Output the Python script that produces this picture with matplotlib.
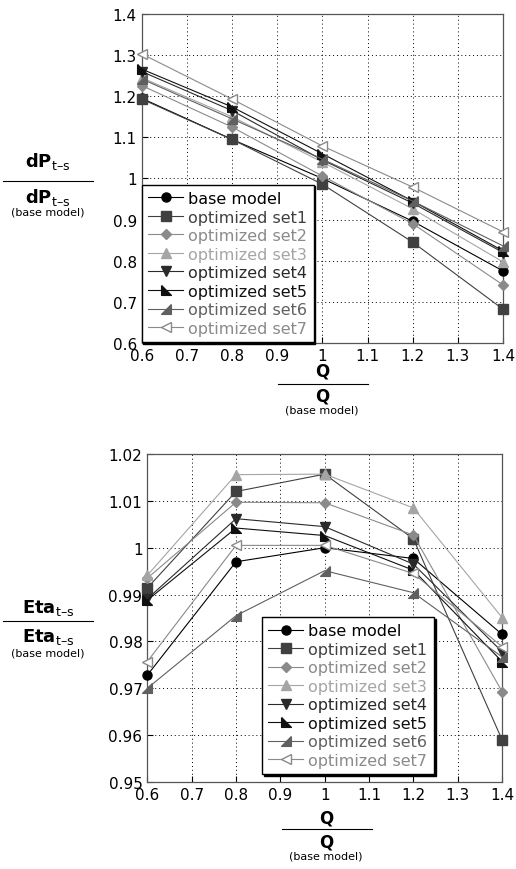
import matplotlib
matplotlib.use("Agg")
import matplotlib.pyplot as plt
import numpy as np

plt.rcParams['font.family'] = ['DejaVu Sans']
plt.rcParams['mathtext.fontset'] = 'dejavusans'

x = [0.6, 0.8, 1.0, 1.2, 1.4]
labels = ["base model", "optimized set1", "optimized set2", "optimized set3",
          "optimized set4", "optimized set5", "optimized set6", "optimized set7"]

dp_base = [1.195, 1.095, 1.000, 0.896, 0.775]
dp_set1 = [1.193, 1.095, 0.986, 0.845, 0.682]
dp_set2 = [1.226, 1.125, 1.006, 0.890, 0.741]
dp_set3 = [1.245, 1.150, 1.040, 0.926, 0.797]
dp_set4 = [1.260, 1.165, 1.045, 0.940, 0.820]
dp_set5 = [1.266, 1.174, 1.060, 0.945, 0.824]
dp_set6 = [1.242, 1.145, 1.047, 0.945, 0.836]
dp_set7 = [1.303, 1.193, 1.079, 0.979, 0.870]

eta_base = [0.9728, 0.9970, 1.0000, 0.9977, 0.9815]
eta_set1 = [0.9914, 1.0120, 1.0157, 1.0019, 0.9590]
eta_set2 = [0.9935, 1.0097, 1.0096, 1.0027, 0.9693]
eta_set3 = [0.9941, 1.0156, 1.0157, 1.0085, 0.9851]
eta_set4 = [0.9891, 1.0062, 1.0045, 0.9965, 0.9778]
eta_set5 = [0.9888, 1.0042, 1.0026, 0.9952, 0.9757]
eta_set6 = [0.9700, 0.9855, 0.9951, 0.9904, 0.9767]
eta_set7 = [0.9757, 1.0005, 1.0005, 0.9945, 0.9789]

dp_series = [dp_base, dp_set1, dp_set2, dp_set3, dp_set4, dp_set5, dp_set6, dp_set7]
eta_series = [eta_base, eta_set1, eta_set2, eta_set3, eta_set4, eta_set5, eta_set6, eta_set7]

mk5 = [(-1, 1), (-1, -1), (1, -1), (-1, 1)]
mk6 = [(1, 1), (1, -1), (-1, -1), (1, 1)]
styles = [
    dict(color='black', marker='o', mfc='black', mec='black', ms=6.5),
    dict(color='#404040', marker='s', mfc='#404040', mec='#404040', ms=6.5),
    dict(color='#8a8a8a', marker='D', mfc='#8a8a8a', mec='#8a8a8a', ms=5.5),
    dict(color='#a5a5a5', marker='^', mfc='#a5a5a5', mec='#a5a5a5', ms=7),
    dict(color='#2a2a2a', marker='v', mfc='#2a2a2a', mec='#2a2a2a', ms=7),
    dict(color='#101010', marker=mk5, mfc='#101010', mec='#101010', ms=7),
    dict(color='#606060', marker=mk6, mfc='#606060', mec='#606060', ms=7),
    dict(color='#8a8a8a', marker='<', mfc='white', mec='#8a8a8a', ms=7),
]
text_colors = ['black', '#404040', '#8a8a8a', '#a5a5a5', '#2a2a2a', '#101010', '#606060', '#8a8a8a']

fig = plt.figure(figsize=(5.16, 8.7), dpi=100)
ax1 = fig.add_axes([0.2746, 0.6046, 0.7004, 0.3782])
ax2 = fig.add_axes([0.2855, 0.1000, 0.6875, 0.3770])


def style_ax(ax, ylim, yticks, yfmt):
    ax.set_xlim(0.6, 1.4)
    ax.set_ylim(*ylim)
    ax.set_xticks(np.arange(0.6, 1.41, 0.1))
    ax.set_xticklabels(['0.6', '0.7', '0.8', '0.9', '1', '1.1', '1.2', '1.3', '1.4'])
    ax.set_yticks(yticks)
    ax.set_yticklabels([yfmt(v) for v in yticks])
    ax.grid(True, linestyle=(0, (1, 3)), color='black', linewidth=0.7)
    ax.tick_params(direction='in', labelsize=11, length=4, colors='black')
    for s in ax.spines.values():
        s.set_color('#555555')
        s.set_linewidth(0.9)


def draw(ax, series):
    handles = []
    for vals, st in zip(series, styles):
        h, = ax.plot(x, vals, linewidth=0.8, zorder=3, clip_on=False, **st)
        handles.append(h)
    return handles


h1 = draw(ax1, dp_series)
h2 = draw(ax2, eta_series)

style_ax(ax1, (0.6, 1.4), [0.6, 0.7, 0.8, 0.9, 1.0, 1.1, 1.2, 1.3, 1.4],
         lambda v: '1' if abs(v - 1) < 1e-9 else f'{v:.1f}')
style_ax(ax2, (0.95, 1.02), [0.95, 0.96, 0.97, 0.98, 0.99, 1.0, 1.01, 1.02],
         lambda v: '1' if abs(v - 1) < 1e-9 else f'{v:.2f}')

shadow = {'color': 'black', 'alpha': 1, 'ox': 1.3, 'oy': -1.3}
leg_kw = dict(fontsize=11.5, frameon=True, fancybox=False, edgecolor='black',
              framealpha=1, shadow=shadow, labelspacing=0.22, handlelength=2.2,
              handletextpad=0.3, borderpad=0.4, borderaxespad=0.0)
leg1 = ax1.legend(h1, labels, loc='lower left', bbox_to_anchor=(0.0, 0.003), **leg_kw)
leg2 = ax2.legend(h2, labels, loc='lower left', bbox_to_anchor=(0.323, 0.024), **leg_kw)
for leg in (leg1, leg2):
    leg.get_frame().set_linewidth(1.0)
    leg.set_zorder(10)
    for t, c in zip(leg.get_texts(), text_colors):
        t.set_color(c)


def frac_label(cx, y_num, y_line, y_den, y_base, x0, x1, name):
    fig.text(cx, y_num, r'$\mathbf{%s}_{\mathrm{t–s}}$' % name, ha='center', va='center', fontsize=13)
    fig.lines.append(plt.Line2D([x0, x1], [y_line, y_line], transform=fig.transFigure,
                                color='black', linewidth=0.8))
    fig.text(cx, y_den, r'$\mathbf{%s}_{\mathrm{t–s}}$' % name, ha='center', va='center', fontsize=13)
    fig.text(cx, y_base, '(base model)', ha='center', va='center', fontsize=8)


H = 870.0
W = 516.0
frac_label(48 / W, 1 - 162 / H, 1 - 181.7 / H, 1 - 197 / H, 1 - 213 / H, 3 / W, 93 / W, 'dP')
frac_label(48 / W, 1 - 608 / H, 1 - 621.7 / H, 1 - 637 / H, 1 - 654 / H, 3 / W, 93 / W, 'Eta')


def q_label(cx, y_num, y_line, y_den, y_base, x0, x1):
    fig.text(cx, y_num, 'Q', ha='center', va='center', fontsize=12, fontweight='bold')
    fig.lines.append(plt.Line2D([x0, x1], [y_line, y_line], transform=fig.transFigure,
                                color='black', linewidth=0.8))
    fig.text(cx, y_den, 'Q', ha='center', va='center', fontsize=12, fontweight='bold')
    fig.text(cx, y_base, '(base model)', ha='center', va='center', fontsize=8)


q_label(322 / W, 1 - 372 / H, 1 - 385 / H, 1 - 397 / H, 1 - 411 / H, 278 / W, 368 / W)
q_label(326 / W, 1 - 819 / H, 1 - 830 / H, 1 - 843 / H, 1 - 857 / H, 282 / W, 372 / W)

fig.savefig('out.png', dpi=100)
